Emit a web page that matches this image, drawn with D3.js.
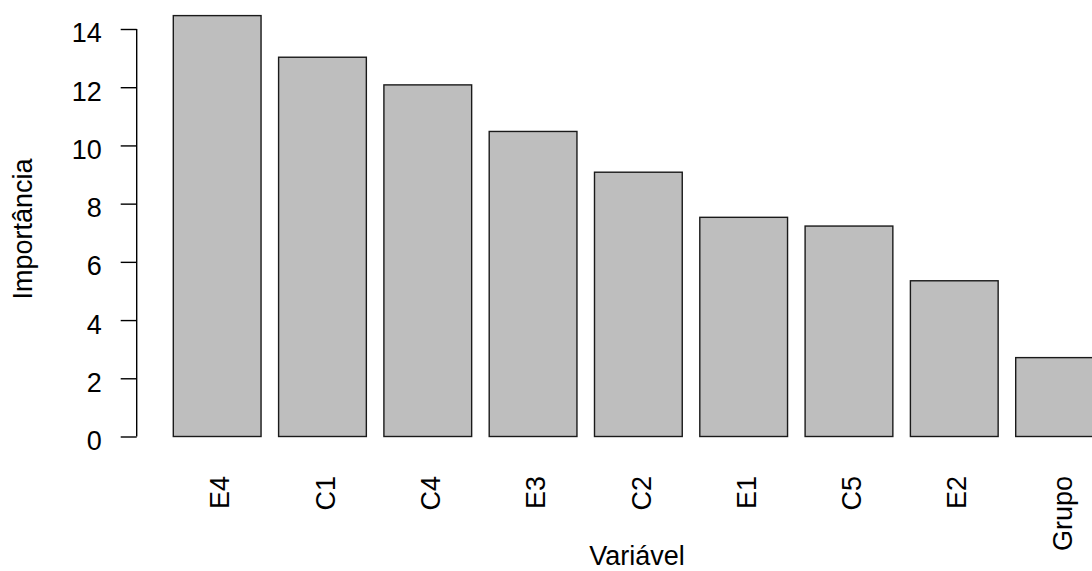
<!DOCTYPE html>
<html>
<head>
<meta charset="utf-8">
<script src="https://cdn.jsdelivr.net/npm/d3@7"></script>
<style>
  html, body { margin: 0; padding: 0; background: #ffffff; }
  svg { display: block; }
  text { font-family: "Liberation Sans", Arial, sans-serif; fill: #000; }
</style>
</head>
<body>
<svg id="chart" width="1092" height="571"></svg>
<script>
// Data
const categories = ["E4", "C1", "C4", "E3", "C2", "E1", "C5", "E2", "Grupo"];
const values = [14.46, 13.03, 12.08, 10.48, 9.08, 7.53, 7.23, 5.35, 2.71];
const yTicks = [0, 2, 4, 6, 8, 10, 12, 14];
const xTitle = "Variável";
const yTitle = "Importância";

const svg = d3.select("#chart");
const fontSize = 27;

const x = d3.scaleBand()
  .domain(categories)
  .range([173.3, 173.3 + 105.3 * (categories.length - 1 / 6)])
  .paddingInner(1 / 6)
  .paddingOuter(0);

const y = d3.scaleLinear()
  .domain([0, 14])
  .range([436.5, 29]);

// Bars
svg.append("g")
  .selectAll("rect")
  .data(categories)
  .join("rect")
  .attr("x", d => x(d))
  .attr("y", (d, i) => y(values[i]))
  .attr("width", x.bandwidth())
  .attr("height", (d, i) => y(0) - y(values[i]))
  .attr("fill", "#bebebe")
  .attr("stroke", "#1a1a1a")
  .attr("stroke-width", 1.4);

// Y axis
const axisX = 136.7;
const yAxis = d3.axisLeft(y)
  .tickValues(yTicks)
  .tickSize(16)
  .tickPadding(19)
  .tickSizeOuter(0)
  .tickFormat(d3.format("d"));

const gy = svg.append("g")
  .attr("transform", `translate(${axisX},0)`)
  .call(yAxis);
gy.select(".domain")
  .attr("d", `M0,${y(0)}V${y(14)}`)
  .attr("stroke", "#000")
  .attr("stroke-width", 1.4);
gy.selectAll(".tick line").attr("stroke", "#000").attr("stroke-width", 1.4);
gy.selectAll(".tick text")
  .attr("font-size", fontSize)
  .attr("font-family", "'Liberation Sans', Arial, sans-serif")
  .attr("fill", "#000")
  .attr("dy", "0.48em");

// X category labels (rotated)
svg.append("g")
  .selectAll("text")
  .data(categories)
  .join("text")
  .attr("transform", d => `translate(${x(d) + x.bandwidth() / 2},476) rotate(-90)`)
  .attr("text-anchor", "end")
  .attr("dy", "0.45em")
  .attr("font-size", fontSize)
  .text(d => d);

// Axis titles
svg.append("text")
  .attr("x", 637)
  .attr("y", 565)
  .attr("text-anchor", "middle")
  .attr("font-size", fontSize)
  .text(xTitle);

svg.append("text")
  .attr("transform", `translate(32.3,229) rotate(-90)`)
  .attr("text-anchor", "middle")
  .attr("font-size", fontSize)
  .text(yTitle);
</script>
</body>
</html>
